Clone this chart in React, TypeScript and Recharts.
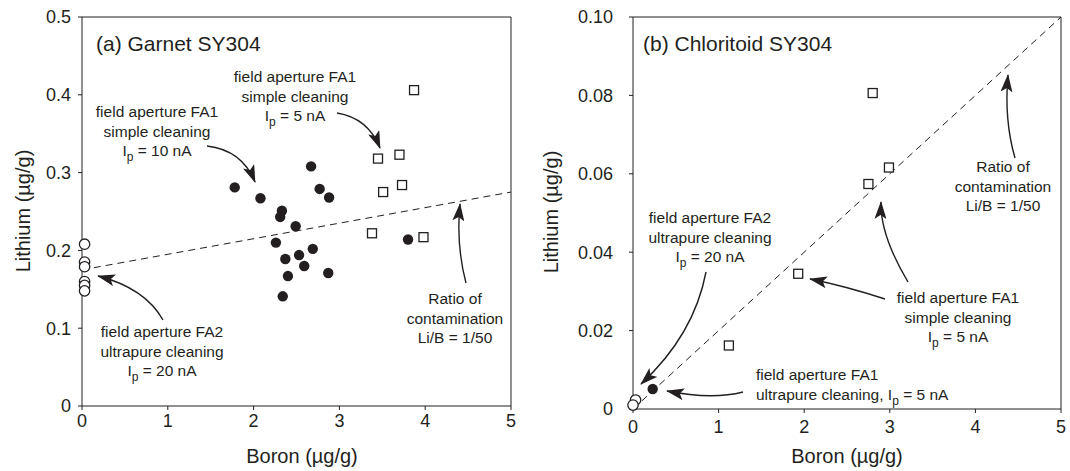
import React from "react";
import { ScatterChart, Scatter, XAxis, YAxis, ReferenceLine } from "recharts";

// ---- data ----
const boronTicks = [0, 1, 2, 3, 4, 5];
const garnetLiTicks = [0, 0.1, 0.2, 0.3, 0.4, 0.5];
const chloritoidLiTicks = [0, 0.02, 0.04, 0.06, 0.08, 0.1];

// (a) Garnet SY304
const garnetFA1Simple10 = [
  { x: 1.78, y: 0.281 }, { x: 2.08, y: 0.267 }, { x: 2.33, y: 0.251 }, { x: 2.31, y: 0.243 },
  { x: 2.49, y: 0.231 }, { x: 2.67, y: 0.308 }, { x: 2.77, y: 0.279 }, { x: 2.88, y: 0.268 },
  { x: 3.80, y: 0.214 }, { x: 2.26, y: 0.210 }, { x: 2.37, y: 0.189 }, { x: 2.53, y: 0.194 },
  { x: 2.69, y: 0.202 }, { x: 2.59, y: 0.180 }, { x: 2.40, y: 0.167 }, { x: 2.87, y: 0.171 },
  { x: 2.34, y: 0.141 },
];
const garnetFA1Simple5 = [
  { x: 3.87, y: 0.406 }, { x: 3.45, y: 0.318 }, { x: 3.70, y: 0.323 }, { x: 3.51, y: 0.275 },
  { x: 3.73, y: 0.284 }, { x: 3.38, y: 0.222 }, { x: 3.98, y: 0.217 },
];
const garnetFA2Ultra20 = [
  { x: 0.03, y: 0.208 }, { x: 0.03, y: 0.185 }, { x: 0.03, y: 0.179 },
  { x: 0.03, y: 0.160 }, { x: 0.03, y: 0.155 }, { x: 0.03, y: 0.148 },
];
const garnetRatioLine = [{ x: 0, y: 0.175 }, { x: 5, y: 0.275 }];

// (b) Chloritoid SY304
const chlFA1Simple5 = [
  { x: 2.80, y: 0.0806 }, { x: 2.99, y: 0.0616 }, { x: 2.75, y: 0.0574 },
  { x: 1.93, y: 0.0345 }, { x: 1.12, y: 0.0162 },
];
const chlFA1Ultra5 = [{ x: 0.23, y: 0.0051 }];
const chlFA2Ultra20 = [{ x: 0.03, y: 0.0023 }, { x: 0.0, y: 0.001 }];
const chlRatioLine = [{ x: 0, y: 0 }, { x: 5, y: 0.1 }];

const INK = "#231f20";
const FONT = "'Liberation Sans', Arial, Helvetica, sans-serif";

const filledCircle = (p: any) => <circle cx={p.cx} cy={p.cy} r={5.2} fill={INK} />;
const openCircle = (p: any) => (
  <circle cx={p.cx} cy={p.cy} r={5.2} fill="#fff" stroke={INK} strokeWidth={1.3} />
);
const openSquare = (p: any) => (
  <rect x={p.cx - 4.5} y={p.cy - 4.5} width={9} height={9} fill="#fff" stroke={INK} strokeWidth={1.3} />
);

const tickStyle = { fill: INK, fontSize: 18, fontFamily: FONT };
const fmtX = (v: number) => String(v);

type Line = string | { pre?: string; sub: string; post: string };
const Note = ({ x, y, lines, anchor = "middle" }: { x: number; y: number; lines: Line[]; anchor?: string }) => (
  <g fontFamily={FONT} fontSize={15.5} fill={INK}>
    {lines.map((l, i) =>
      typeof l === "string" ? (
        <text key={i} x={x} y={y + i * 19.5} textAnchor={anchor as any}>{l}</text>
      ) : (
        <text key={i} x={x} y={y + i * 19.5} textAnchor={anchor as any}>
          {l.pre ?? ""}I<tspan dy={5} fontSize={12}>{l.sub}</tspan>
          <tspan dy={-5}>{l.post}</tspan>
        </text>
      )
    )}
  </g>
);

const Arrow = ({ d }: { d: string }) => (
  <path d={d} fill="none" stroke={INK} strokeWidth={1.4} markerEnd="url(#head)" />
);

function Panel({
  left, width, axisX, plotRight, bottom, yDomain, yTicks, fmtY, yTickMargin, xTickMargin, children,
}: any) {
  return (
    <div style={{ position: "absolute", left, top: 0 }}>
      <ScatterChart
        width={width}
        height={471}
        margin={{ top: 16, right: width - plotRight - 1, bottom: 0, left: 0 }}
      >
        <XAxis
          xAxisId="b" type="number" dataKey="x" domain={[0, 5]} ticks={boronTicks}
          height={471 - bottom} stroke={INK} tick={tickStyle} tickSize={4}
          tickMargin={xTickMargin} tickFormatter={fmtX}
        />
        <XAxis
          xAxisId="t" orientation="top" type="number" domain={[0, 5]} ticks={boronTicks}
          height={1} stroke={INK} tickSize={-6} tickFormatter={() => ""}
        />
        <YAxis
          yAxisId="l" type="number" dataKey="y" domain={yDomain} ticks={yTicks}
          width={axisX} stroke={INK} tick={tickStyle} tickSize={4}
          tickMargin={yTickMargin} tickFormatter={fmtY}
        />
        <YAxis
          yAxisId="r" orientation="right" type="number" domain={yDomain} ticks={yTicks}
          width={1} stroke={INK} tickSize={-4} tickFormatter={() => ""}
        />
        {children}
      </ScatterChart>
    </div>
  );
}

export default function App() {
  return (
    <div style={{ position: "absolute", left: 0, top: 0, width: 1070, height: 471, background: "#fff" }}>
      <Panel
        left={0} width={540} axisX={82} plotRight={511} bottom={406}
        yDomain={[0, 0.5]} yTicks={garnetLiTicks}
        fmtY={(v: number) => (v === 0 ? "0" : String(v))} yTickMargin={7} xTickMargin={4}
      >
        <ReferenceLine
          xAxisId="b" yAxisId="l" segment={garnetRatioLine} stroke={INK}
          strokeWidth={1} strokeDasharray="7 5" ifOverflow="visible"
        />
        <Scatter xAxisId="b" yAxisId="l" data={garnetFA1Simple10} shape={filledCircle} isAnimationActive={false} />
        <Scatter xAxisId="b" yAxisId="l" data={garnetFA1Simple5} shape={openSquare} isAnimationActive={false} />
        <Scatter xAxisId="b" yAxisId="l" data={garnetFA2Ultra20} shape={openCircle} isAnimationActive={false} />
      </Panel>
      <Panel
        left={560} width={510} axisX={73} plotRight={501} bottom={409}
        yDomain={[0, 0.1]} yTicks={chloritoidLiTicks}
        fmtY={(v: number) => (v === 0 ? "0" : v.toFixed(2))} yTickMargin={16} xTickMargin={7}
      >
        <ReferenceLine
          xAxisId="b" yAxisId="l" segment={chlRatioLine} stroke={INK}
          strokeWidth={1} strokeDasharray="7 5" ifOverflow="visible"
        />
        <Scatter xAxisId="b" yAxisId="l" data={chlFA1Simple5} shape={openSquare} isAnimationActive={false} />
        <Scatter xAxisId="b" yAxisId="l" data={chlFA2Ultra20} shape={openCircle} isAnimationActive={false} />
        <Scatter xAxisId="b" yAxisId="l" data={chlFA1Ultra5} shape={filledCircle} isAnimationActive={false} />
      </Panel>

      <svg
        width={1070} height={471}
        style={{ position: "absolute", left: 0, top: 0, pointerEvents: "none" }}
      >
        <defs>
          <marker id="head" viewBox="0 0 18 12" refX={17} refY={6} markerWidth={18} markerHeight={12}
            markerUnits="userSpaceOnUse" orient="auto">
            <path d="M0,0 L18,6 L0,12 L4,6 z" fill={INK} />
          </marker>
        </defs>
        <g fontFamily={FONT} fill={INK}>
          <text x={96} y={51} fontSize={21}>(a) Garnet SY304</text>
          <text x={643} y={51} fontSize={21}>(b) Chloritoid SY304</text>
          <text x={302} y={463} fontSize={20} textAnchor="middle">Boron (µg/g)</text>
          <text x={847} y={463} fontSize={20} textAnchor="middle">Boron (µg/g)</text>
          <text x={30} y={211} fontSize={20} textAnchor="middle" transform="rotate(-90 30 211)">Lithium (µg/g)</text>
          <text x={558} y={212} fontSize={20} textAnchor="middle" transform="rotate(-90 558 212)">Lithium (µg/g)</text>
        </g>

        {/* panel (a) notes */}
        <Note x={295} y={82} lines={["field aperture FA1", "simple cleaning", { sub: "p", post: " = 5 nA" }]} />
        <Arrow d="M337,113 Q368,118 380,148" />
        <Note x={157} y={117} lines={["field aperture FA1", "simple cleaning", { sub: "p", post: " = 10 nA" }]} />
        <Arrow d="M207,146 Q242,150 255,182" />
        <Note x={162} y={337} lines={["field aperture FA2", "ultrapure cleaning", { sub: "p", post: " = 20 nA" }]} />
        <Arrow d="M163,320 Q145,288 98,276" />
        <Note x={455} y={304} lines={["Ratio of", "contamination", "Li/B = 1/50"]} />
        <Arrow d="M466,283 Q456,245 460,204" />

        {/* panel (b) notes */}
        <Note x={1003} y={172} lines={["Ratio of", "contamination", "Li/B = 1/50"]} />
        <Arrow d="M1015,158 Q1004,120 1008,75" />
        <Note x={710} y={223} lines={["field aperture FA2", "ultrapure cleaning", { sub: "p", post: " = 20 nA" }]} />
        <Arrow d="M706,272 Q694,335 641,384" />
        <Note x={958} y={303} lines={["field aperture FA1", "simple cleaning", { sub: "p", post: " = 5 nA" }]} />
        <Arrow d="M885,299 Q845,286 810,279" />
        <Arrow d="M908,282 Q880,235 881,202" />
        <Note x={756} y={380} anchor="start"
          lines={["field aperture FA1", { pre: "ultrapure cleaning, ", sub: "p", post: " = 5 nA" }]} />
        <Arrow d="M743,392 Q712,400 667,391" />
      </svg>
    </div>
  );
}
